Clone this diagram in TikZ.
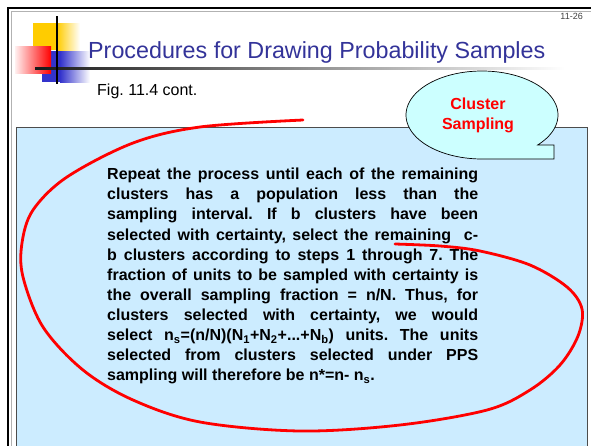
\documentclass[tikz,border=0pt]{standalone}
\usepackage{fontspec}
\setmainfont{Liberation Sans}
\frenchspacing
\definecolor{boxblue}{HTML}{CCECFF}
\definecolor{calloutcyan}{HTML}{CCFFFF}
\definecolor{titleblue}{HTML}{333399}
\definecolor{logoyellow}{HTML}{FFCC00}
\definecolor{logoblue}{HTML}{3333CC}
\definecolor{markred}{HTML}{FF0000}
\tikzset{
  bodytext/.style={anchor=north west, inner sep=0pt, text width=371pt, align=justify,
    font=\fontsize{16}{20.1}\selectfont\bfseries\frenchspacing},
  callouttext/.style={anchor=base, inner sep=0pt, text=markred,
    font=\fontsize{16}{20}\selectfont\bfseries},
  redmark/.style={markred, line width=2.8pt, line cap=round, line join=round}
}
\begin{document}
\begin{tikzpicture}[x=1pt,y=-1pt]
\useasboundingbox (0,0) rectangle (591,445);
\fill[white] (0,0) rectangle (591,445);
% outer frame
\draw[line width=2.5pt] (8,8) rectangle (630,480);
\draw[gray!60, line width=0.8pt] (11,11) rectangle (627,477);
% page number
\node[anchor=base east, inner sep=0pt, text=black!75, font=\fontsize{9}{10}\selectfont] (pagenum) at (583,19.5) {11-26};
% logo
\fill[logoyellow] (33,23) rectangle (57,50);
\shade[left color=logoyellow, right color=white] (57,23) rectangle (80,50);
\fill[logoblue] (42,51) rectangle (60,82);
\shade[left color=logoblue, right color=white] (60,51) rectangle (90,82);
\shade[left color=red!6, right color=red] (15,46) rectangle (51,73);
\shade[left color=black!90, right color=white] (35,67) rectangle (565,69.5);
\draw[line width=2pt] (57,16) -- (57,84);
% title
\node[anchor=base west, inner sep=0pt, text=titleblue, font=\fontsize{23.3}{26}\selectfont] (title) at (88,58) {Procedures for Drawing Probability Samples};
\node[anchor=base west, inner sep=0pt, font=\fontsize{16}{18}\selectfont] (fig) at (97,95) {Fig. 11.4 cont.};
% content box
\filldraw[fill=boxblue, draw=gray!60!black, line width=0.8pt] (16,127) rectangle (587,480);
% callout
\filldraw[fill=calloutcyan, draw=black, line width=0.7pt]
  plot[domain=90:402.9, samples=120] ({482+76*cos(\x)},{115+44*sin(\x)})
  -- (554,145) -- (554,159) -- cycle;
\node[callouttext] (cl1) at (478,109.5) {Cluster};
\node[callouttext] (cl2) at (478,129.5) {Sampling};
% body text
\node[bodytext] (body) at (107,168) {Repeat the process until each of the remaining\linebreak
clusters has a population less than the\linebreak
sampling interval. If b clusters have been\linebreak
selected with certainty, select the remaining\ \ c-\linebreak
b clusters according to steps 1 through 7. The\linebreak
fraction of units to be sampled with certainty is\linebreak
the overall sampling fraction = n/N. Thus, for\linebreak
clusters selected with certainty, we would\linebreak
select n\textsubscript{s}=(n/N)(N\textsubscript{1}+N\textsubscript{2}+...+N\textsubscript{b}) units. The units\linebreak
selected from clusters selected under PPS\linebreak
sampling will therefore be n*=n- n\textsubscript{s}.};
% red hand-drawn mark
\draw[redmark] plot[smooth, tension=0.55] coordinates {
  (395,244) (440,246) (480,251) (530,265) (567,287) (582,309) (578,336)
  (560,365) (530,390) (487,410) (400,425) (300,431) (200,422) (133,400)
  (83,370) (43,327) (23,277) (22,243) (33,210) (67,177) (133,143)
  (200,127) (303,120)};
\end{tikzpicture}
\end{document}
